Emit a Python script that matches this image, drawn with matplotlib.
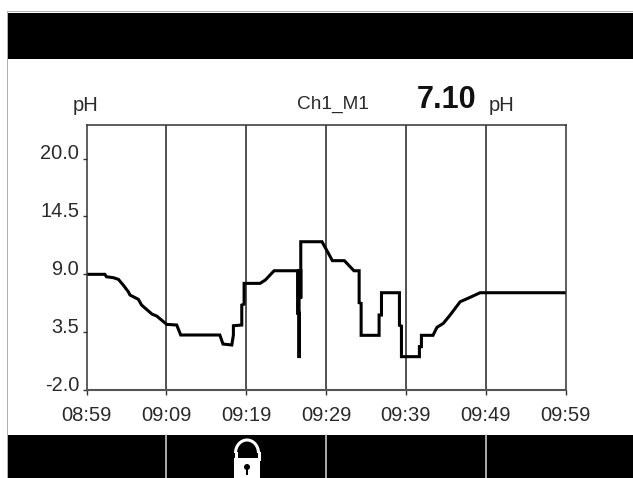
# -*- coding: utf-8 -*-
import matplotlib
matplotlib.use("Agg")
import matplotlib.pyplot as plt
from matplotlib.patches import Rectangle, Arc, Circle
from matplotlib.transforms import ScaledTranslation

plt.rcParams['font.family'] = ['Liberation Sans', 'DejaVu Sans']

# Data (minutes after 08:59, pH)
minutes = [0, 2.3, 2.5, 3.36, 4.0, 4.6, 5.24, 5.45, 6.5, 6.9, 8.2, 8.8, 10.05, 11.3, 11.8,
           16.7, 17.1, 18.2, 18.4, 18.4, 19.45, 19.45, 19.74, 19.74, 21.74, 22.4, 23.5,
           26.44, 26.44, 26.63, 26.63, 26.63, 26.84, 26.84, 26.84,
           29.5, 30.3, 30.8, 32.3, 33.5, 34.15, 34.15,
           34.4, 34.4, 36.65, 36.65, 36.95, 36.95, 39.2, 39.2, 39.45, 39.45, 41.7, 41.7,
           41.95, 41.95, 43.4, 43.9, 44.7, 45.55, 46.8, 48.05, 49.3, 60]
ph = [9.0, 9.0, 8.77, 8.68, 8.52, 7.98, 7.34, 7.03, 6.62, 6.08, 5.22, 5.03, 4.24, 4.18, 3.23,
      3.23, 2.37, 2.28, 3.23, 4.11, 4.18, 6.08, 6.17, 8.14, 8.14, 8.46, 9.34,
      9.34, 5.3, 5.3, 1.04, 9.34, 9.34, 6.7, 12.1,
      12.1, 11.0, 10.3, 10.3, 9.34, 9.34, 6.3,
      6.24, 3.2, 3.2, 5.13, 5.13, 7.25, 7.25, 4.15, 4.08, 1.17, 1.17, 2.12,
      2.12, 3.2, 3.2, 3.96, 4.34, 5.13, 6.39, 6.81, 7.25, 7.25]
x_ticks = [0, 10, 20, 30, 40, 50, 60]
x_labels = ['08:59', '09:09', '09:19', '09:29', '09:39', '09:49', '09:59']
y_ticks = [-2.0, 3.5, 9.0, 14.5, 20.0]
softkeys = [166, 326, 486]

W, H = 633, 478
fig = plt.figure(figsize=(W / 100, H / 100), dpi=100)

# screen furniture, in pixels
bg = fig.add_axes([0, 0, 1, 1])
bg.set_xlim(0, W)
bg.set_ylim(H, 0)
bg.axis('off')
bg.add_patch(Rectangle((7, 11), W, H, fc='#b0b0b0', ec='none'))
bg.add_patch(Rectangle((8, 12), W, H, fc='white', ec='none'))
bg.add_patch(Rectangle((8, 13), W, 46, fc='black', ec='none'))
bg.add_patch(Rectangle((8, 435), W, H - 435, fc='black', ec='none'))
for sx in softkeys:
    bg.plot([sx, sx], [435, H], color='#c8c8c8', lw=1.2)

# lock icon
bg.add_patch(Rectangle((234, 458), 26, 20, fc='white', ec='none'))
bg.add_patch(Arc((247, 453), 23, 26, theta1=180, theta2=360, color='white', lw=2.2))
bg.plot([235.5, 235.5], [453, 459], color='white', lw=2.2)
bg.plot([258.5, 258.5], [453, 459], color='white', lw=2.2)
bg.add_patch(Circle((247, 467), 3, fc='black', ec='none'))
bg.add_patch(Rectangle((245.8, 468), 2.4, 7, fc='black', ec='none'))

# header text
bg.text(86, 105, 'pH', fontsize=14.5, color='#2a2a2a', ha='center', va='center')
bg.text(333, 104, 'Ch1_M1', fontsize=13.7, color='#2a2a2a', ha='center', va='center')
bg.text(447, 100, '7.10', fontsize=22, fontweight='bold', color='#111111', ha='center', va='center')
bg.text(502, 105, 'pH', fontsize=14.5, color='#2a2a2a', ha='center', va='center')

# trend chart
ax = fig.add_axes([86.5 / W, 1 - 390 / H, 479 / W, 265 / H])
ax.set_xlim(0, 60)
ax.set_ylim(-2, 23.2)
ax.patch.set_alpha(0)
for v in x_ticks[1:-1]:
    ax.axvline(v, color='#222222', lw=1.1)
ax.plot(minutes, ph, color='black', lw=2.2, solid_joinstyle='miter')
ax.set_xticks(x_ticks)
ax.set_xticklabels(x_labels)
ax.set_yticks(y_ticks)
ax.set_yticklabels(['%.1f' % v for v in y_ticks])
ax.tick_params(axis='x', length=3.6, width=1.0, color='#333333', labelsize=14.5, labelcolor='#2a2a2a', pad=8)
ax.tick_params(axis='y', length=2.9, width=1.0, color='#333333', labelsize=14.4, labelcolor='#2a2a2a', pad=2.5)
# y labels sit a little above their ticks
for lab in ax.get_yticklabels():
    lab.set_transform(lab.get_transform() + ScaledTranslation(0, 5 / 72, fig.dpi_scale_trans))
for s in ax.spines.values():
    s.set_color('#333333')
    s.set_linewidth(1.1)
ax.spines['bottom'].set_color('#555555')
ax.spines['bottom'].set_linewidth(1.5)

fig.savefig('out.png', dpi=100)
